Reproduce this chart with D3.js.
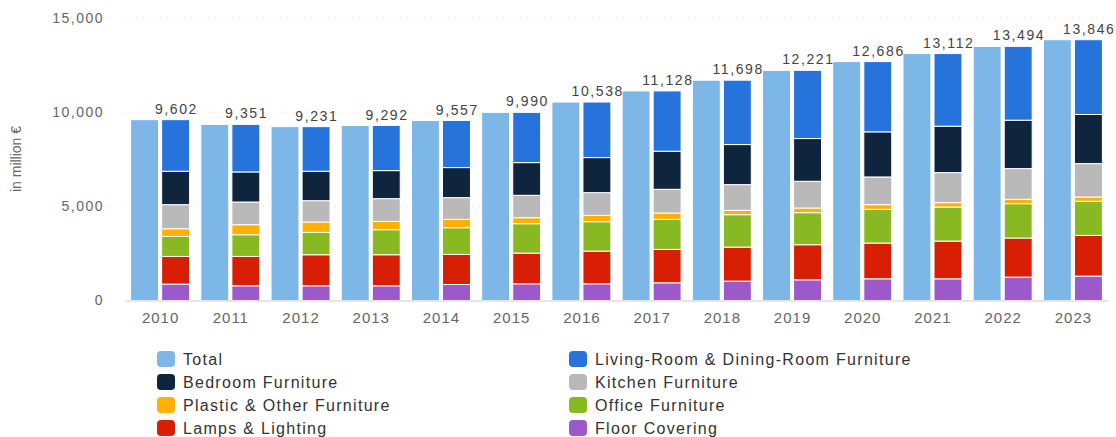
<!DOCTYPE html>
<html lang="en">
<head>
<meta charset="UTF-8">
<title>Furniture sales</title>
<script src="https://d3js.org/d3.v7.min.js"></script>
<style>
  body { margin: 0; background: #fff; }
  text { font-family: "Liberation Sans", Arial, Helvetica, sans-serif; }
</style>
</head>
<body>
<svg id="chart" width="1116" height="437"></svg>
<script>
const years = ["2010","2011","2012","2013","2014","2015","2016","2017","2018","2019","2020","2021","2022","2023"];
const total = [9602, 9351, 9231, 9292, 9557, 9990, 10538, 11128, 11698, 12221, 12686, 13112, 13494, 13846];
// segments bottom to top
const floorCovering = [869, 780, 780, 780, 851, 887, 887, 940, 1028, 1099, 1152, 1152, 1241, 1294];
const lamps = [1471, 1560, 1649, 1649, 1596, 1631, 1737, 1773, 1809, 1862, 1898, 2004, 2075, 2163];
const office = [1064, 1153, 1188, 1330, 1418, 1560, 1560, 1595, 1720, 1702, 1790, 1808, 1826, 1809];
const plastic = [408, 532, 550, 443, 443, 319, 337, 337, 230, 248, 249, 231, 230, 230];
const kitchen = [1277, 1205, 1134, 1206, 1153, 1188, 1206, 1259, 1365, 1419, 1471, 1596, 1631, 1773];
const bedroom = [1773, 1596, 1561, 1489, 1596, 1737, 1861, 2021, 2128, 2269, 2394, 2464, 2571, 2607];
const living = [2740, 2525, 2369, 2395, 2500, 2668, 2950, 3203, 3418, 3622, 3732, 3857, 3920, 3970];
const yTicks = [0, 5000, 10000, 15000];

const series = [
  {name: "Floor Covering", values: floorCovering, color: "#9b59c9"},
  {name: "Lamps & Lighting", values: lamps, color: "#d81e05"},
  {name: "Office Furniture", values: office, color: "#88b922"},
  {name: "Plastic & Other Furniture", values: plastic, color: "#ffb000"},
  {name: "Kitchen Furniture", values: kitchen, color: "#b9b9b9"},
  {name: "Bedroom Furniture", values: bedroom, color: "#0f253d"},
  {name: "Living-Room & Dining-Room Furniture", values: living, color: "#2673db"}
];
const totalColor = "#7cb7e8";

const legendItems = [
  ["Total", totalColor], ["Living-Room & Dining-Room Furniture", "#2673db"],
  ["Bedroom Furniture", "#0f253d"], ["Kitchen Furniture", "#b9b9b9"],
  ["Plastic & Other Furniture", "#ffb000"], ["Office Furniture", "#88b922"],
  ["Lamps & Lighting", "#d81e05"], ["Floor Covering", "#9b59c9"]
];

const svg = d3.select("#chart");
const plot = {left: 125, right: 1108, top: 18, bottom: 300.5};

const x = d3.scaleBand().domain(years).range([plot.left, plot.right]).paddingInner(0.16).paddingOuter(0.08);
const xi = d3.scaleBand().domain(["total", "stack"]).range([0, x.bandwidth()]).paddingInner(0.1);
const y = d3.scaleLinear().domain([0, 15000]).range([plot.bottom, plot.top]);

// gridlines
svg.append("g")
  .selectAll("line")
  .data(yTicks.filter(d => d > 0))
  .join("line")
  .attr("x1", plot.left).attr("x2", plot.right)
  .attr("y1", d => y(d)).attr("y2", d => y(d))
  .attr("stroke", "#dcdcdc")
  .attr("stroke-dasharray", "1,5");

// y axis labels
const yAxis = svg.append("g")
  .attr("transform", `translate(${plot.left},0)`)
  .call(d3.axisLeft(y).tickValues(yTicks).tickSize(0).tickPadding(21).tickFormat(d3.format(",")));
yAxis.select(".domain").remove();
yAxis.selectAll("text").attr("fill", "#666").style("font-size", "14px").style("letter-spacing", "1.5px");

svg.append("text")
  .attr("transform", `translate(21,159) rotate(-90)`)
  .attr("text-anchor", "middle")
  .attr("fill", "#666")
  .style("font-size", "14px")
  .text("in million €");

// total bars
svg.append("g")
  .selectAll("rect")
  .data(years)
  .join("rect")
  .attr("x", d => x(d) + xi("total"))
  .attr("y", (d, i) => y(total[i]))
  .attr("width", xi.bandwidth())
  .attr("height", (d, i) => y(0) - y(total[i]))
  .attr("fill", totalColor)
  .attr("stroke", "#fff")
  .attr("stroke-width", 1);

// stacked bars
const rows = years.map((yr, i) => {
  const r = {year: yr};
  series.forEach(s => r[s.name] = s.values[i]);
  return r;
});
const stack = d3.stack().keys(series.map(s => s.name))(rows);

svg.append("g")
  .selectAll("g")
  .data(stack)
  .join("g")
  .attr("fill", (d, i) => series[i].color)
  .selectAll("rect")
  .data(d => d)
  .join("rect")
  .attr("x", d => x(d.data.year) + xi("stack"))
  .attr("y", d => y(d[1]))
  .attr("width", xi.bandwidth())
  .attr("height", d => y(d[0]) - y(d[1]))
  .attr("stroke", "#fff")
  .attr("stroke-width", 1);

// value labels
svg.append("g")
  .selectAll("text")
  .data(years)
  .join("text")
  .attr("x", d => x(d) + xi("stack") + xi.bandwidth() / 2 + 0.8)
  .attr("y", (d, i) => y(total[i]) - 6)
  .attr("text-anchor", "middle")
  .attr("fill", "#444")
  .style("font-size", "14px")
  .style("letter-spacing", "1.6px")
  .text((d, i) => d3.format(",")(total[i]));

// x axis
const xAxis = svg.append("g")
  .attr("transform", `translate(0,${plot.bottom})`)
  .call(d3.axisBottom(x).tickSize(0).tickPadding(12));
xAxis.select(".domain").attr("stroke", "#ccc");
xAxis.selectAll("text").attr("fill", "#666").style("font-size", "15px").style("letter-spacing", "1px").attr("dx", "0.5px");

// legend
const legend = svg.append("g")
  .selectAll("g")
  .data(legendItems)
  .join("g")
  .attr("transform", (d, i) => `translate(${i % 2 === 0 ? 157 : 569},${351 + Math.floor(i / 2) * 23})`);
legend.append("rect")
  .attr("width", 18).attr("height", 16).attr("rx", 4)
  .attr("fill", d => d[1]);
legend.append("text")
  .attr("x", 26).attr("y", 8)
  .attr("dy", "0.36em")
  .attr("fill", "#333")
  .style("font-size", "16px")
  .style("letter-spacing", "1.3px")
  .text(d => d[0]);
</script>
</body>
</html>
